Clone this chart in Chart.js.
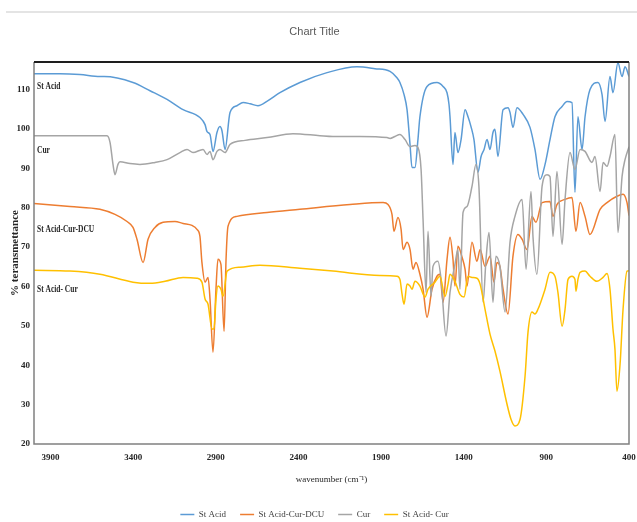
<!DOCTYPE html>
<html>
<head>
<meta charset="utf-8">
<title>FTIR spectra</title>
<script src="https://cdn.jsdelivr.net/npm/chart.js@4.4.1/dist/chart.umd.min.js"></script>
<style>
  html, body { margin: 0; padding: 0; background: #fff; }
  #wrap { width: 637px; height: 522px; }
</style>
</head>
<body>
<div id="wrap"><canvas id="ftir" width="637" height="522"></canvas></div>
<script>
// wavenumber (cm-1) / % transmittance
const stAcidWn = [4000, 3843, 3722, 3601, 3576, 3401, 3298, 3195, 3098, 2996,
  2965, 2953, 2935, 2917, 2893, 2875, 2863, 2844, 2814, 2772,
  2735, 2693, 2645, 2584, 2512, 2391, 2227, 2046, 1937, 1846,
  1804, 1786, 1761, 1743, 1725, 1713, 1695, 1677, 1665, 1622,
  1562, 1525, 1501, 1489, 1483, 1465, 1453, 1435, 1416, 1392,
  1374, 1356, 1338, 1314, 1295, 1277, 1259, 1241, 1223, 1211,
  1193, 1162, 1132, 1120, 1102, 1078, 1041, 999, 969, 938,
  908, 878, 848, 805, 775, 745, 727, 709, 684, 666,
  636, 588, 563, 545, 515, 497, 467, 442, 424, 400];
const stAcidT = [114.0, 114.0, 113.8, 113.3, 113.3, 111.8, 109.7, 107.5, 104.9, 102.9,
  101.1, 99.3, 98.6, 94.3, 99.1, 100.6, 99.6, 94.8, 104.2, 105.9,
  106.7, 106.4, 105.9, 107.2, 109.2, 111.8, 114.3, 115.8, 115.3, 114.6,
  113.0, 111.8, 108.7, 104.9, 96.1, 90.2, 90.2, 97.3, 103.1, 110.8,
  111.8, 110.8, 109.2, 106.2, 103.1, 91.0, 99.1, 94.0, 97.3, 104.9,
  103.1, 100.6, 97.3, 89.0, 93.0, 94.8, 97.3, 94.8, 99.1, 99.9,
  93.0, 104.9, 105.4, 104.2, 100.4, 105.4, 103.7, 100.4, 94.8, 87.2,
  91.0, 97.3, 103.1, 105.7, 107.0, 106.7, 83.9, 103.1, 94.8, 103.1,
  110.0, 111.8, 108.7, 101.9, 113.3, 109.2, 116.8, 113.3, 115.8, 113.3];

const dcuWn = [4000, 3782, 3601, 3510, 3437, 3401, 3377, 3340, 3310, 3268,
  3219, 3147, 3098, 3044, 3014, 2996, 2984, 2965, 2947, 2935,
  2917, 2899, 2887, 2869, 2850, 2838, 2826, 2772, 2590, 2391,
  2088, 1888, 1858, 1834, 1822, 1798, 1779, 1767, 1743, 1725,
  1707, 1689, 1665, 1646, 1622, 1592, 1562, 1544, 1525, 1501,
  1483, 1465, 1453, 1435, 1410, 1392, 1380, 1350, 1320, 1301,
  1271, 1241, 1217, 1199, 1181, 1162, 1132, 1102, 1072, 1047,
  1017, 987, 963, 926, 878, 860, 836, 787, 745, 721,
  696, 666, 636, 575, 533, 473, 436, 412, 400];
const dcuT = [81.1, 80.3, 79.6, 78.3, 76.5, 75.0, 72.0, 66.1, 72.0, 75.0,
  76.3, 76.5, 76.0, 75.5, 74.5, 72.7, 66.1, 61.1, 62.3, 56.8,
  43.3, 59.3, 66.9, 65.6, 48.6, 66.9, 75.3, 77.8, 78.8, 79.6,
  80.8, 81.3, 80.8, 78.3, 74.0, 77.5, 74.5, 69.4, 71.2, 69.4,
  64.4, 66.1, 63.1, 59.3, 52.2, 59.3, 62.6, 63.1, 56.0, 66.9,
  72.5, 66.9, 60.1, 70.2, 67.4, 64.4, 60.1, 71.2, 66.4, 69.4,
  65.1, 67.7, 61.1, 66.1, 65.1, 59.3, 53.0, 67.7, 73.2, 72.0,
  69.4, 77.8, 76.3, 81.3, 81.6, 77.8, 80.8, 82.1, 82.6, 74.0,
  81.3, 77.8, 73.2, 79.6, 81.3, 82.9, 83.4, 81.3, 78.0];

const curWn = [4000, 3722, 3558, 3540, 3522, 3510, 3492, 3480, 3419, 3359,
  3268, 3195, 3117, 3074, 3038, 2977, 2953, 2935, 2917, 2893,
  2875, 2844, 2814, 2723, 2590, 2433, 2270, 2191, 2028, 1864,
  1846, 1816, 1786, 1755, 1725, 1695, 1677, 1658, 1646, 1628,
  1616, 1598, 1586, 1556, 1537, 1507, 1483, 1453, 1435, 1423,
  1404, 1380, 1350, 1326, 1308, 1283, 1265, 1247, 1223, 1205,
  1181, 1150, 1120, 1090, 1047, 1023, 993, 981, 957, 926,
  896, 878, 860, 836, 805, 787, 757, 727, 696, 666,
  624, 606, 575, 557, 533, 515, 485, 467, 442, 424, 400];
const curT = [98.3, 98.3, 98.3, 96.6, 91.0, 88.4, 91.0, 91.7, 91.2, 91.0,
  91.5, 92.2, 94.0, 94.8, 94.0, 94.8, 93.5, 94.3, 92.2, 94.3,
  94.8, 94.0, 96.1, 97.1, 97.8, 98.8, 98.3, 98.1, 98.1, 97.8,
  97.6, 98.1, 98.6, 97.3, 95.5, 95.8, 95.3, 89.7, 77.0, 58.5,
  74.0, 57.5, 65.1, 66.4, 61.8, 47.4, 58.5, 65.6, 69.4, 59.3,
  78.8, 80.3, 85.4, 91.0, 85.4, 56.0, 66.9, 73.7, 56.0, 67.7,
  65.1, 53.5, 71.2, 77.8, 82.1, 64.4, 84.1, 72.7, 63.1, 85.4,
  88.4, 87.9, 72.7, 89.2, 70.7, 82.1, 94.0, 89.7, 94.8, 94.3,
  91.5, 93.0, 84.1, 91.5, 90.5, 93.0, 98.6, 73.7, 87.9, 92.2, 95.5];

const stAcidCurWn = [4000, 3782, 3601, 3401, 3298, 3207, 3098, 3014, 2984, 2965,
  2947, 2923, 2911, 2899, 2887, 2869, 2856, 2832, 2754, 2633,
  2391, 2191, 1907, 1804, 1786, 1773, 1761, 1743, 1725, 1713,
  1695, 1665, 1634, 1616, 1574, 1544, 1513, 1495, 1483, 1453,
  1423, 1398, 1374, 1350, 1320, 1301, 1271, 1241, 1211, 1181,
  1138, 1114, 1090, 1059, 1029, 1011, 987, 969, 951, 908,
  878, 848, 830, 805, 787, 769, 745, 727, 721, 709,
  696, 666, 636, 594, 557, 533, 515, 497, 485, 473,
  454, 436, 412, 400];
const stAcidCurT = [64.1, 63.9, 63.1, 61.1, 60.8, 61.3, 62.3, 62.1, 61.1, 56.8,
  55.5, 49.2, 49.2, 56.8, 60.1, 59.3, 57.5, 63.9, 64.9, 65.4,
  64.6, 63.9, 62.8, 62.6, 61.8, 58.0, 55.5, 60.6, 60.1, 59.3,
  61.3, 60.1, 57.3, 59.3, 61.1, 62.6, 57.5, 60.6, 63.1, 61.3,
  58.0, 57.3, 62.6, 62.3, 62.1, 60.6, 54.2, 47.9, 43.6, 38.5,
  30.1, 26.3, 24.6, 26.3, 37.2, 48.4, 53.5, 53.0, 54.2, 59.3,
  63.6, 62.6, 58.5, 49.9, 54.2, 61.8, 62.6, 61.8, 58.8, 61.8,
  63.6, 63.9, 62.6, 61.3, 62.3, 63.3, 59.3, 49.2, 44.1, 33.4,
  40.3, 54.2, 63.9, 64.0];

const xTicks = [3900, 3400, 2900, 2400, 1900, 1400, 900, 400];
const yTicks = [20, 30, 40, 50, 60, 70, 80, 90, 100, 110];

// series names written inside the plot, anchored in data units
const seriesNotes = [
  { text: 'St Acid', wn: 3982, t: 110.8 },
  { text: 'Cur', wn: 3982, t: 94.6 },
  { text: 'St Acid-Cur-DCU', wn: 3982, t: 74.5 },
  { text: 'St Acid- Cur', wn: 3982, t: 59.3 }
];

const SERIF = "'Liberation Serif', 'Times New Roman', serif";

function pts(wn, t) {
  return wn.map((w, i) => ({ x: w, y: t[i] }));
}

function line(label, wn, t, color) {
  return {
    label: label,
    data: pts(wn, t),
    borderColor: color,
    backgroundColor: color,
    borderWidth: 1.5,
    pointRadius: 0,
    pointStyle: 'line',
    cubicInterpolationMode: 'monotone',
    fill: false
  };
}

// plot frame + the thin rule at the very top, as in the spreadsheet export
const framePlugin = {
  id: 'frame',
  beforeDraw(chart) {
    const ctx = chart.ctx;
    ctx.save();
    ctx.strokeStyle = '#e4e4e4';
    ctx.lineWidth = 2;
    ctx.beginPath();
    ctx.moveTo(6, 12);
    ctx.lineTo(chart.width, 12);
    ctx.stroke();
    ctx.restore();
  },
  afterDatasetsDraw(chart) {
    const { left, right, top, bottom } = chart.chartArea;
    const ctx = chart.ctx;
    ctx.save();
    ctx.lineWidth = 1.5;
    ctx.strokeStyle = '#808080';
    ctx.beginPath();
    ctx.moveTo(left, top);
    ctx.lineTo(left, bottom);
    ctx.lineTo(right, bottom);
    ctx.lineTo(right, top);
    ctx.stroke();
    ctx.lineWidth = 2;
    ctx.strokeStyle = '#1e1e1e';
    ctx.beginPath();
    ctx.moveTo(left, top);
    ctx.lineTo(right, top);
    ctx.stroke();
    ctx.restore();
  }
};

const notesPlugin = {
  id: 'notes',
  afterDatasetsDraw(chart) {
    const ctx = chart.ctx;
    const xs = chart.scales.x, ys = chart.scales.y;
    ctx.save();
    ctx.font = 'bold 11px ' + SERIF;
    ctx.fillStyle = '#262626';
    ctx.textBaseline = 'middle';
    ctx.textAlign = 'left';
    seriesNotes.forEach(n => {
      ctx.save();
      ctx.translate(xs.getPixelForValue(n.wn), ys.getPixelForValue(n.t));
      ctx.scale(0.68, 1);
      ctx.fillText(n.text, 0, 0);
      ctx.restore();
    });
    ctx.restore();
  }
};

// push the legend row down to where the reference has it
const legendNudge = {
  id: 'legendNudge',
  afterLayout(chart) {
    const lg = chart.legend;
    if (!lg) return;
    const d = 7;
    lg.top += d;
    lg.bottom += d;
  }
};

// last series is painted on top in the original, so the list is reversed
// here and flipped back in the legend
new Chart(document.getElementById('ftir'), {
  type: 'line',
  data: {
    datasets: [
      line('St Acid- Cur', stAcidCurWn, stAcidCurT, '#ffc000'),
      line('Cur', curWn, curT, '#a5a5a5'),
      line('St Acid-Cur-DCU', dcuWn, dcuT, '#ed7d31'),
      line('St Acid', stAcidWn, stAcidT, '#5b9bd5')
    ]
  },
  options: {
    responsive: false,
    animation: false,
    layout: { padding: { left: 0, right: 8, top: 0, bottom: 0 } },
    plugins: {
      title: {
        display: true,
        text: 'Chart Title',
        color: '#595959',
        font: { family: "'Liberation Sans Narrow', 'Liberation Sans', sans-serif", size: 11, weight: 'normal' },
        padding: { top: 25.4, bottom: 23.4 }
      },
      legend: {
        position: 'bottom',
        reverse: true,
        labels: {
          usePointStyle: true,
          pointStyle: 'line',
          pointStyleWidth: 14,
          color: '#404040',
          font: { family: SERIF, size: 9 },
          padding: 14
        }
      },
      tooltip: { enabled: false }
    },
    scales: {
      x: {
        type: 'linear',
        reverse: true,
        min: 400,
        max: 4000,
        afterBuildTicks: s => { s.ticks = xTicks.map(v => ({ value: v })); },
        afterFit: s => {
          s.height = s.chart.height - s.chart.legend.height - 444;
          s.paddingLeft = 0;
          s.paddingRight = 0;
        },
        grid: { display: false, drawTicks: false },
        border: { display: false },
        ticks: {
          autoSkip: false,
          maxRotation: 0,
          padding: 8,
          color: '#262626',
          font: { family: SERIF, size: 9, weight: 'bold' },
          callback: v => String(v)
        },
        title: {
          display: true,
          text: 'wavenumber (cm\u207B\u00B9)',
          color: '#262626',
          font: { family: SERIF, size: 9 },
          padding: { top: 0, bottom: 4 }
        }
      },
      y: {
        min: 20,
        max: 117,
        afterBuildTicks: s => { s.ticks = yTicks.map(v => ({ value: v })); },
        afterFit: s => { s.width = 34; },
        grid: { display: false, drawTicks: false },
        border: { display: false },
        ticks: {
          padding: 4,
          color: '#262626',
          font: { family: SERIF, size: 9, weight: 'bold' }
        },
        title: {
          display: true,
          text: '% teransmettance',
          color: '#262626',
          font: { family: SERIF, size: 11, weight: 'bold' },
          padding: { top: 9, bottom: 0 }
        }
      }
    }
  },
  plugins: [framePlugin, notesPlugin, legendNudge]
});
</script>
</body>
</html>
